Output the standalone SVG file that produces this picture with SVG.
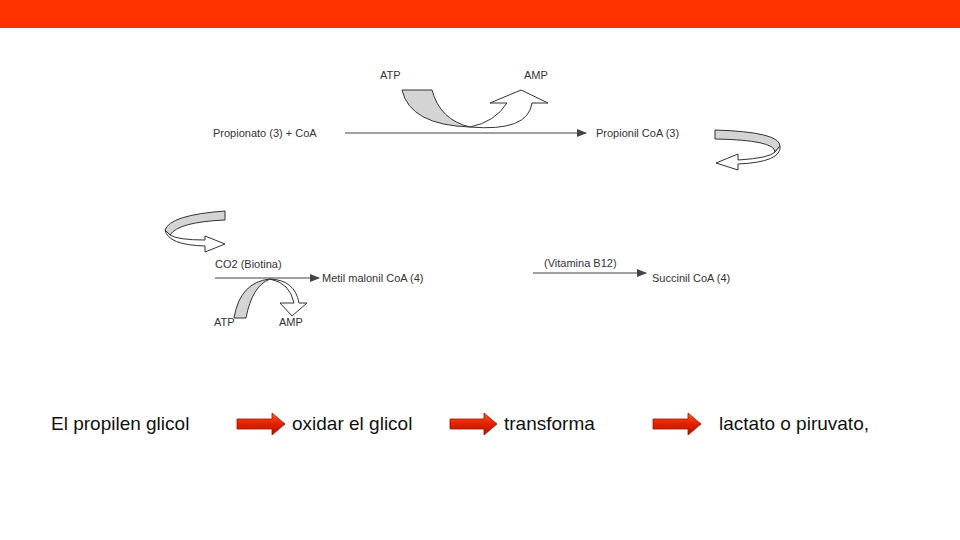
<svg xmlns="http://www.w3.org/2000/svg" width="960" height="540" viewBox="0 0 960 540">
<defs>
<marker id="ah" markerWidth="10" markerHeight="8" refX="9" refY="4" orient="auto" markerUnits="userSpaceOnUse"><path d="M0,0 L10,4 L0,8 Z" fill="#444"/></marker>
<linearGradient id="rg" x1="0" y1="0" x2="0" y2="1"><stop offset="0" stop-color="#ff5a1a"/><stop offset="0.5" stop-color="#e02000"/><stop offset="1" stop-color="#b01500"/></linearGradient>
</defs>
<style>
.t{font-family:"Liberation Sans",Arial,sans-serif;font-size:11px;fill:#333}
.b{font-family:"Liberation Sans",Arial,sans-serif;font-size:19px;fill:#111}
.ln{stroke:#444;stroke-width:1.2;fill:none}
.g{fill:#d4d4d4;stroke:#333;stroke-width:1}
.w{fill:#fff;stroke:#333;stroke-width:1}
.ra{fill:url(#rg);stroke:#a01000;stroke-width:0.8}
</style>
<rect width="960" height="540" fill="#fff"/>
<rect width="960" height="28" fill="#ff3300"/>
<g id="connectors">
<line class="ln" x1="345" y1="133" x2="586" y2="133" marker-end="url(#ah)"/>
<line class="ln" x1="215" y1="278" x2="319" y2="278" marker-end="url(#ah)"/>
<line class="ln" x1="533" y1="273" x2="646" y2="273" marker-end="url(#ah)"/>
<path class="g" d="M402,90 L432,90 Q440,120 470,127 Q410,125 402,90 Z"/>
<path class="w" d="M470,127 Q495,122 507,103 L490,103 L521,90 L548,103 L532,103 Q528,132 470,127 Z"/>
<path class="g" d="M715,130 Q780,132 780,146 L775,152 Q775,140 715,139 Z"/>
<path class="w" d="M780,146 Q782,162 738,164 L738,170 L716,163 L738,154 L738,160 Q770,158 775,152 Z"/>
<path class="g" d="M225,211 Q170,215 165,230 L170,235 Q178,222 225,220 Z"/>
<path class="w" d="M165,230 Q168,245 205,246 L205,252 L225,244 L205,236 L205,240 Q178,240 170,235 Z"/>
<path class="g" d="M234,318 L246,318 Q252,286 270,279 Q240,282 234,318 Z"/>
<path class="w" d="M270,279 Q290,283 294,303 L280,303 L292,316 L307,303 L299,303 Q295,280 270,279 Z"/>
</g>
<g id="n-propionato"><text class="t" x="213" y="137">Propionato (3) + CoA</text></g>
<g id="n-atp1"><text class="t" x="380" y="79">ATP</text></g>
<g id="n-amp1"><text class="t" x="524" y="79">AMP</text></g>
<g id="n-propionil"><text class="t" x="596" y="137">Propionil CoA (3)</text></g>
<g id="n-co2"><text class="t" x="215" y="268">CO2 (Biotina)</text></g>
<g id="n-metil"><text class="t" x="322" y="282">Metil malonil CoA (4)</text></g>
<g id="n-atp2"><text class="t" x="214" y="326">ATP</text></g>
<g id="n-amp2"><text class="t" x="279" y="326">AMP</text></g>
<g id="n-vit"><text class="t" x="544" y="267">(Vitamina B12)</text></g>
<g id="n-succinil"><text class="t" x="652" y="282">Succinil CoA (4)</text></g>
<g id="bottom">
<text class="b" x="51" y="430">El propilen glicol</text>
<text class="b" x="292" y="430">oxidar el glicol</text>
<text class="b" x="504" y="430">transforma</text>
<text class="b" x="719" y="430">lactato o piruvato,</text>
<path class="ra" d="M237,419 L272,419 L272,413 L285,424 L272,435 L272,429 L237,429 Z"/>
<path class="ra" d="M450,419 L484,419 L484,413 L497,424 L484,435 L484,429 L450,429 Z"/>
<path class="ra" d="M653,419 L688,419 L688,413 L701,424 L688,435 L688,429 L653,429 Z"/>
</g>
</svg>
